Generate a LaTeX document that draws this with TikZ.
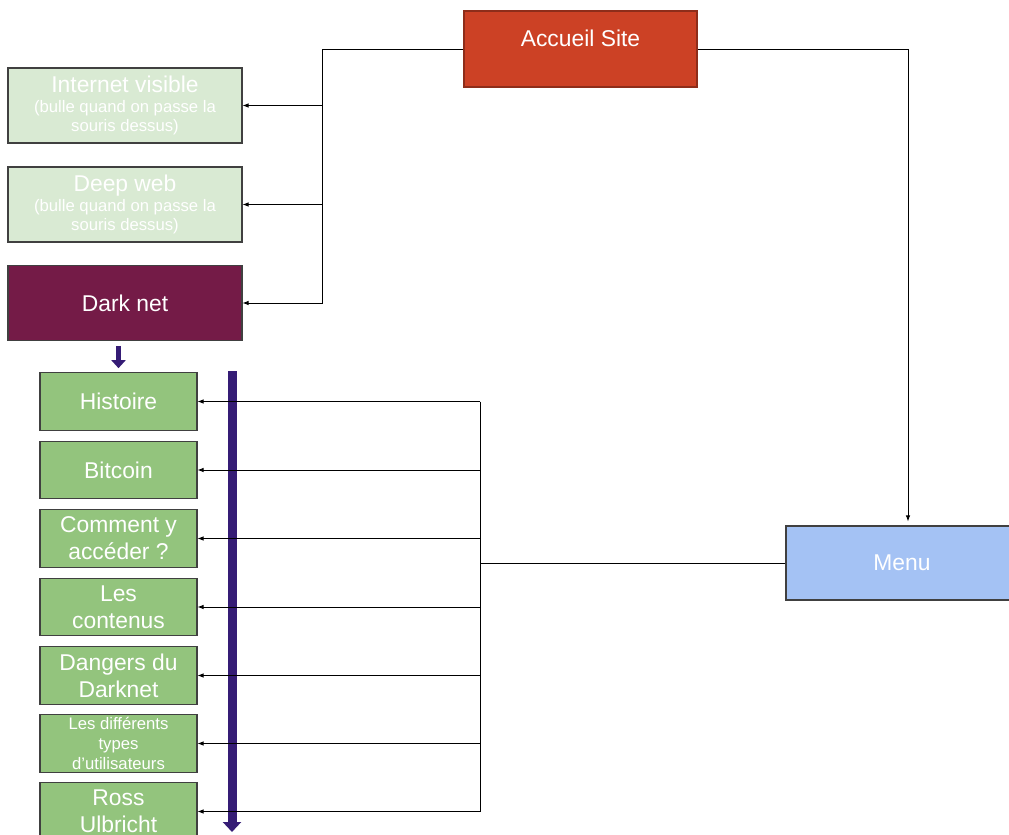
\documentclass[tikz,border=0pt]{standalone}
\usepackage{fontspec}
\setmainfont{Liberation Sans}
\usetikzlibrary{arrows.meta}
\definecolor{home fill}{HTML}{CC4125}
\definecolor{home edge}{HTML}{8E2D1A}
\definecolor{page fill}{HTML}{D9EAD3}
\definecolor{dark fill}{HTML}{741B47}
\definecolor{section fill}{HTML}{93C47D}
\definecolor{menu fill}{HTML}{A4C2F4}
\definecolor{flow color}{HTML}{351C75}
\colorlet{box edge}{black!75}
\newcommand{\bigtext}{\fontsize{13}{15.3}\selectfont}
\newcommand{\smalltext}{\fontsize{9.5}{11.3}\selectfont}
\tikzset{box/.style={draw=box edge, line width=0.6pt, text=white, font=\bigtext, align=center, inner sep=1pt},
	home/.style={box, draw=home edge, fill=home fill, minimum width=4.66cm, minimum height=1.52cm},
	page/.style={box, fill=page fill, minimum width=4.68cm, minimum height=1.5cm},
	darkpage/.style={page, fill=dark fill},
	menubox/.style={box, fill=menu fill, minimum width=4.64cm, minimum height=1.48cm},
	section/.style={box, fill=section fill, minimum width=3.14cm, minimum height=1.15cm},
	link/.style={line width=0.5pt, -{Latex[length=1.2mm,width=0.9mm]}},
	flow/.style={draw=flow color, line width=1.8mm, -{Triangle[length=2mm,width=3.6mm]}},
	smallflow/.style={draw=flow color, line width=1.2mm, -{Triangle[length=1.6mm,width=2.8mm]}}}

\begin{document}
\begin{tikzpicture}[x=0.02cm, y=-0.02cm]
	\useasboundingbox (0,0) rectangle (1009,835);
	% pages
	\node[home, label={[text=white, font=\bigtext, yshift=0.22cm]center:Accueil Site}] (accueil) at (580.5,49) {};
	\node[page, font=\smalltext] (internet) at (125,105.5) {{\bigtext Internet visible}\\(bulle quand on passe la\\souris dessus)};
	\node[page, font=\smalltext] (deepweb) at (125,204.5) {{\bigtext Deep web}\\(bulle quand on passe la\\souris dessus)};
	\node[darkpage] (darknet) at (125,303) {Dark net};
	\node[menubox] (menu) at (902,563) {Menu};
	
	% sections
	\node[section] (histoire) at (118.5,401.5) {Histoire};
	\node[section] (bitcoin) at (118.5,470) {Bitcoin};
	\node[section] (acceder) at (118.5,538.5) {Comment y\\accéder ?};
	\node[section] (contenus) at (118.5,607) {Les\\contenus};
	\node[section] (dangers) at (118.5,675.5) {Dangers du\\Darknet};
	\node[section, font=\smalltext] (types) at (118.5,743.5) {Les différents\\types\\d’utilisateurs};
	\node[section] (ross) at (118.5,811.5) {Ross\\Ulbricht};
	
	\coordinate (time start) at (232,371);
	\coordinate (time end) at (232,832);
	\draw[flow] (time start) -- (time end);
	\draw[smallflow, shorten <=2.8pt, shorten >=2.3pt] (darknet.south -| histoire.north) -- (histoire.north);
	
	\coordinate (split) at (322,0);
	\coordinate (bus) at (480,0);
	\draw[link] (accueil.west) -| (split |- darknet.east) -- (darknet.east);
	\foreach \p in {internet,deepweb}
		\draw[link] (split |- \p.east) -- (\p.east);
	\draw[link, shorten >=2.3pt] (accueil.east) -| ([xshift=0.12cm]menu.north);
	\draw[line width=0.5pt] (menu.west) -- (bus |- menu.west);
	\draw[line width=0.5pt] (bus |- histoire.east) -- (bus |- ross.east);
	\foreach \s in {histoire,bitcoin,acceder,contenus,dangers,types,ross}
		\draw[link] (bus |- \s.east) -- (\s.east);
\end{tikzpicture}
\end{document}
